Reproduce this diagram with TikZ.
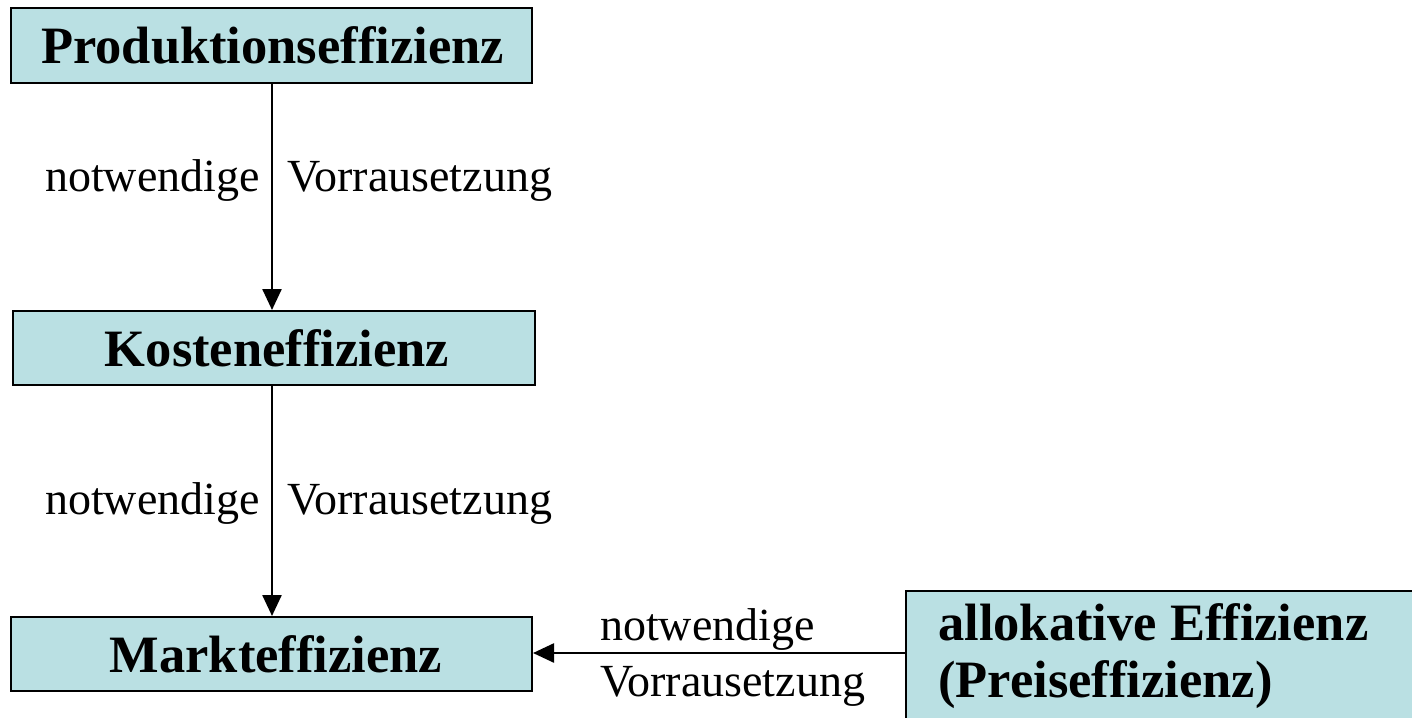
\documentclass[tikz,border=0pt]{standalone}
\usepackage{fontspec}
\setmainfont{Liberation Serif}
\usetikzlibrary{arrows.meta}
\definecolor{boxfill}{RGB}{186,224,227}
\tikzset{
  effbox/.style={draw=black, line width=2pt, fill=boxfill, inner sep=0pt},
  boldtxt/.style={font=\fontsize{52.5}{57}\selectfont\bfseries, inner sep=0pt},
  lbl/.style={font=\fontsize{46}{50}\selectfont, inner sep=0pt},
  conn/.style={line width=2.5pt, -{Triangle[length=21pt,width=19pt]}}
}
\begin{document}
\begin{tikzpicture}[x=1pt,y=-1pt]
\useasboundingbox (0,0) rectangle (1412,717);
\clip (0,0) rectangle (1412,717);
\fill[white] (0,0) rectangle (1412,717);
% boxes
\node[effbox, minimum width=521pt, minimum height=75pt] (p1) at (271.5,45.5) {};
\node[boldtxt] (p1t) at (272.5,45.5) {Produktionseffizienz};
\node[effbox, minimum width=522pt, minimum height=74pt] (p2) at (274,348) {};
\node[boldtxt] (p2t) at (277,348) {Kosteneffizienz};
\node[effbox, minimum width=521pt, minimum height=74pt] (p3) at (271.5,654) {};
\node[boldtxt] (p3t) at (276,654) {Markteffizienz};
\node[effbox, anchor=north west, minimum width=540pt, minimum height=170pt] (p4) at (905,590) {};
\node[boldtxt, anchor=base west] (p4a) at (938,640) {allokative Effizienz};
\node[boldtxt, anchor=base west] (p4b) at (938,697) {(Preiseffizienz)};
% connectors
\draw[conn] (p1.south -| 272,0) -- (p2.north -| 272,0);
\draw[conn] (p2.south -| 272,0) -- (p3.north -| 272,0);
\coordinate (c3) at (905,653);
\draw[conn] (c3) -- (c3 -| p3.east);
% labels
\node[lbl, anchor=base east] (l1a) at (260,191) {notwendige};
\node[lbl, anchor=base west] (l1b) at (287,191) {Vorrausetzung};
\node[lbl, anchor=base east] (l2a) at (260,514) {notwendige};
\node[lbl, anchor=base west] (l2b) at (287,514) {Vorrausetzung};
\node[lbl, anchor=base west] (l3a) at (600,640) {notwendige};
\node[lbl, anchor=base west] (l3b) at (600,696) {Vorrausetzung};
\end{tikzpicture}
\end{document}
